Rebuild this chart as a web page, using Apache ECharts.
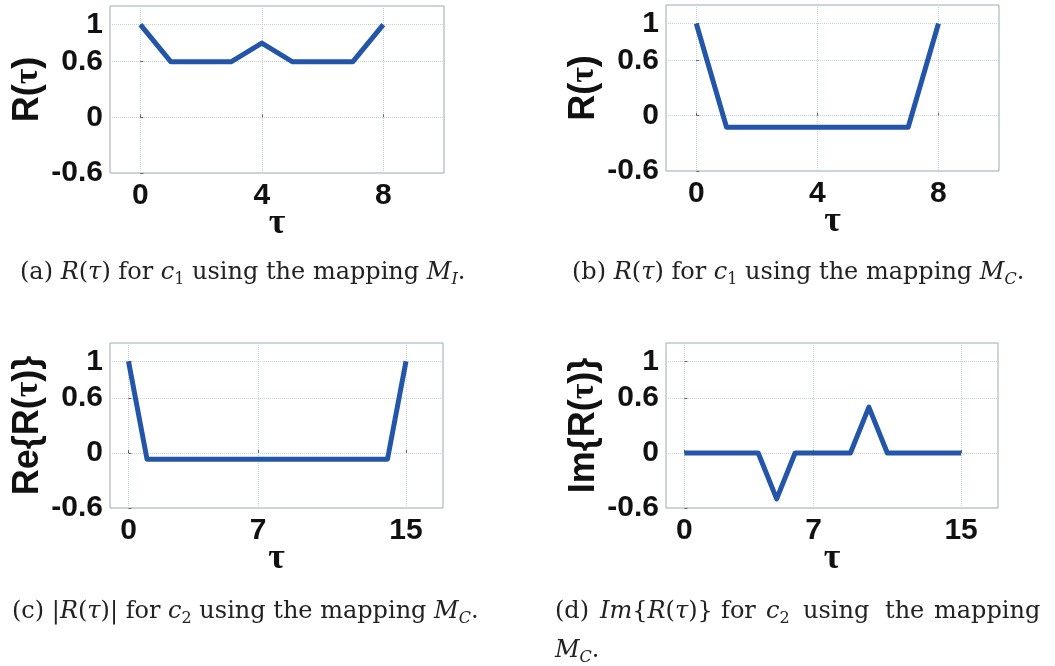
<!DOCTYPE html>
<html>
<head>
<meta charset="utf-8">
<script src="https://cdn.jsdelivr.net/npm/echarts@6/dist/echarts.min.js"></script>
<style>
html,body{margin:0;padding:0;background:#fff;}
#c{width:1055px;height:666px;}
</style>
</head>
<body>
<div id="c"></div>
<script>
// ---- data ----
const tauA = [0, 1, 2, 3, 4, 5, 6, 7, 8];
const valsA = [1, 0.6, 0.6, 0.6, 0.8, 0.6, 0.6, 0.6, 1];
const tauB = [0, 1, 2, 3, 4, 5, 6, 7, 8];
const valsB = [1, -0.125, -0.125, -0.125, -0.125, -0.125, -0.125, -0.125, 1];
const tauC = [0, 1, 2, 3, 4, 5, 6, 7, 8, 9, 10, 11, 12, 13, 14, 15];
const valsC = [1, -0.067, -0.067, -0.067, -0.067, -0.067, -0.067, -0.067, -0.067, -0.067, -0.067, -0.067, -0.067, -0.067, -0.067, 1];
const tauD = [0, 1, 2, 3, 4, 5, 6, 7, 8, 9, 10, 11, 12, 13, 14, 15];
const valsD = [0, 0, 0, 0, 0, -0.5, 0, 0, 0, 0, 0.5, 0, 0, 0, 0, 0];
const yTicks = [-0.6, 0, 0.6, 1];
const xTicks8 = [0, 4, 8];
const xTicks15 = [0, 7, 15];
const yNames = ['R({t|τ})', 'R({t|τ})', 'Re{R({t|τ})}', 'Im{R({t|τ})}'];
const xName = 'τ';

const grids = [
  {left: 110, top: 6, width: 334, height: 167},
  {left: 666, top: 5, width: 333, height: 166},
  {left: 110, top: 343, width: 333, height: 165},
  {left: 666, top: 343, width: 332, height: 165}
];
const xRanges = [[-1, 10, xTicks8], [-1, 10, xTicks8], [-1, 17, xTicks15], [-1, 17, xTicks15]];
const datasets = [[tauA, valsA], [tauB, valsB], [tauC, valsC], [tauD, valsD]];

const LINE = '#2356a8';
const BORDER = '#9aabb3';
const GRIDC = '#c5d2da';
const tickFont = {fontFamily: 'Liberation Sans', fontWeight: 'bold', fontSize: 30, color: '#111'};

const option = {
  animation: false,
  backgroundColor: '#fff',
  grid: grids.map(g => Object.assign({show: true, borderColor: BORDER, borderWidth: 1, backgroundColor: '#fff'}, g)),
  xAxis: xRanges.map((r, i) => ({
    type: 'value', gridIndex: i, min: r[0], max: r[1],
    axisLine: {show: false},
    axisTick: {show: true, inside: true, length: 3, customValues: r[2], lineStyle: {color: '#666'}},
    axisLabel: Object.assign({customValues: r[2], margin: 8}, tickFont),
    splitLine: {show: true, lineStyle: {color: GRIDC, type: 'dotted', width: 1}},
    name: xName, nameLocation: 'middle', nameGap: 33, nameMoveOverlap: false,
    nameTextStyle: {fontFamily: 'Liberation Serif', fontWeight: 'bold', fontSize: 36, color: '#111'}
  })),
  yAxis: grids.map((g, i) => ({
    type: 'value', gridIndex: i, min: -0.6, max: 1.2,
    axisLine: {show: false},
    axisTick: {show: true, inside: true, length: 3, customValues: yTicks, lineStyle: {color: '#666'}},
    axisLabel: Object.assign({customValues: yTicks, margin: 7}, tickFont),
    splitLine: {show: true, lineStyle: {color: GRIDC, type: 'dotted', width: 1}},
    name: yNames[i], nameLocation: 'middle', nameGap: 64, nameRotate: 90, nameMoveOverlap: false,
    nameTextStyle: {fontFamily: 'Liberation Sans', fontWeight: 'bold', fontSize: 36, color: '#111',
      rich: {t: {fontFamily: 'Liberation Serif', fontWeight: 'bold', fontSize: 34, color: '#111'}}}
  })),
  series: datasets.map((d, i) => ({
    type: 'line', xAxisIndex: i, yAxisIndex: i, symbol: 'none',
    lineStyle: {color: LINE, width: 5, join: 'round'},
    data: d[0].map((x, k) => [x, d[1][k]])
  })),
  graphic: []
};

const SERIF = 'DejaVu Serif';
const FS = 24;
const capRich = {
  n: {fontFamily: SERIF, fontSize: FS, color: '#222', lineHeight: 30},
  i: {fontFamily: SERIF, fontSize: FS, fontStyle: 'italic', color: '#222', lineHeight: 30},
  s: {fontFamily: SERIF, fontSize: 16, color: '#222', lineHeight: 20, verticalAlign: 'bottom'},
  si: {fontFamily: SERIF, fontSize: 16, fontStyle: 'italic', color: '#222', lineHeight: 20, verticalAlign: 'bottom'}
};
const captions = [
  {x: 20, y: 258, t: '{n|(a) }{i|R}{n|(}{i|τ}{n|) for }{i|c}{s|1}{n| using the mapping }{i|M}{si|I}{n|.}'},
  {x: 572, y: 258, t: '{n|(b) }{i|R}{n|(}{i|τ}{n|) for }{i|c}{s|1}{n| using the mapping }{i|M}{si|C}{n|.}'},
  {x: 12, y: 597, t: '{n|(c) |}{i|R}{n|(}{i|τ}{n|)| for }{i|c}{s|2}{n| using the mapping }{i|M}{si|C}{n|.}'},
  {x: 555, y: 597, t: '{n|(d)}'},
  {x: 600, y: 597, t: '{i|Im}{n|{}{i|R}{n|(}{i|τ}{n|)}}'},
  {x: 721, y: 597, t: '{n|for}'},
  {x: 766, y: 597, t: '{i|c}{s|2}'},
  {x: 803, y: 597, t: '{n|using}'},
  {x: 885, y: 597, t: '{n|the}'},
  {x: 934, y: 597, t: '{n|mapping}'},
  {x: 555, y: 636, t: '{i|M}{si|C}{n|.}'}
];
captions.forEach(c => option.graphic.push({
  type: 'text', left: c.x, top: c.y,
  style: {text: c.t, rich: capRich, fontFamily: SERIF, fontSize: FS, fill: '#222', lineHeight: 30}
}));

const chart = echarts.init(document.getElementById('c'), null, {renderer: 'canvas'});
chart.setOption(option);
</script>
</body>
</html>
